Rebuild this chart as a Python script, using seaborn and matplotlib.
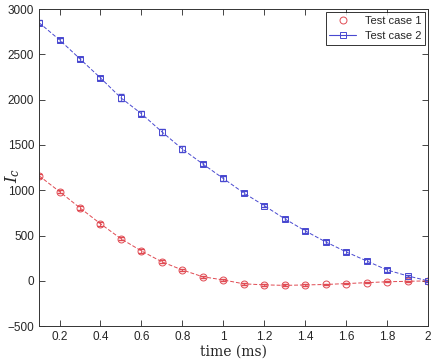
import numpy as np
import pandas as pd
import matplotlib
matplotlib.use("Agg")
import matplotlib.pyplot as plt
from matplotlib.lines import Line2D
import seaborn as sns

time_ms = [0.1, 0.2, 0.3, 0.4, 0.5, 0.6, 0.7, 0.8, 0.9, 1.0,
           1.1, 1.2, 1.3, 1.4, 1.5, 1.6, 1.7, 1.8, 1.9, 2.0]
case1 = [1160, 985, 805, 630, 465, 330, 210, 120, 45, 10,
         -33, -44, -50, -45, -40, -30, -20, -10, -5, 0]
case2 = [2850, 2660, 2450, 2240, 2020, 1845, 1645, 1455, 1290, 1130,
         970, 830, 685, 552, 430, 320, 220, 120, 55, 0]
err1 = [20, 18, 25, 20, 18, 22, 15, 15, 12, 10,
        10, 10, 10, 10, 10, 8, 8, 8, 6, 5]
err2 = [25, 20, 25, 25, 40, 25, 30, 30, 20, 25,
        25, 20, 25, 20, 20, 20, 20, 20, 15, 10]

df = pd.DataFrame({"t": time_ms, "c1": case1, "c2": case2})

sns.set_style("ticks")
plt.rcParams["font.family"] = ["Liberation Sans", "DejaVu Sans"]
plt.rcParams["mathtext.fontset"] = "dejavuserif"

fig = plt.figure(figsize=(4.39, 3.64), dpi=100)
ax = fig.add_axes([0.089, 0.104, 0.886, 0.871])

red = "#e04a52"
blue = "#4848d0"

sns.lineplot(data=df, x="t", y="c1", ax=ax, color=red, lw=0.7, ls=(0, (4, 2)), legend=False)
sns.lineplot(data=df, x="t", y="c2", ax=ax, color=blue, lw=0.7, ls=(0, (4, 2)), legend=False)
ax.errorbar(time_ms, case1, yerr=err1, fmt="none", ecolor=red, elinewidth=0.6, capsize=2)
ax.errorbar(time_ms, case2, yerr=err2, fmt="none", ecolor=blue, elinewidth=0.6, capsize=2)
ax.plot(time_ms, case1, ls="none", marker="o", ms=5, mfc="none", mec=red, mew=0.7)
ax.plot(time_ms, case2, ls="none", marker="s", ms=4.5, mfc="none", mec=blue, mew=0.7)

ax.set_xlim(0.1, 2.0)
ax.set_ylim(-500, 3000)
ax.set_xticks(np.arange(0.2, 2.01, 0.2))
ax.set_xticklabels(["0.2", "0.4", "0.6", "0.8", "1", "1.2", "1.4", "1.6", "1.8", "2"])
ax.set_yticks(np.arange(-500, 3001, 500))
ax.tick_params(direction="in", top=True, right=True, labelsize=8.5, length=4, width=0.6)
for s in ax.spines.values():
    s.set_linewidth(0.7)
    s.set_color("#333333")

ax.set_xlabel("time (ms)", family="DejaVu Serif", fontsize=10, labelpad=1)
ax.set_ylabel(r"$I_c$", fontsize=12, rotation=90)
ax.yaxis.set_label_coords(-0.045, 0.476)

handles = [
    Line2D([], [], ls="none", marker="o", ms=5, mfc="none", mec=red, mew=0.7),
    Line2D([], [], ls="-", lw=0.8, color=blue, marker="s", ms=4, mfc="none", mec=blue, mew=0.7),
]
leg = ax.legend(handles, ["Test case 1", "Test case 2"], loc="upper right", fontsize=8,
                frameon=True, fancybox=False, edgecolor="black", borderpad=0.3,
                handlelength=2.4, borderaxespad=0.3)
leg.get_frame().set_linewidth(0.7)

fig.savefig("out.png", dpi=100)
